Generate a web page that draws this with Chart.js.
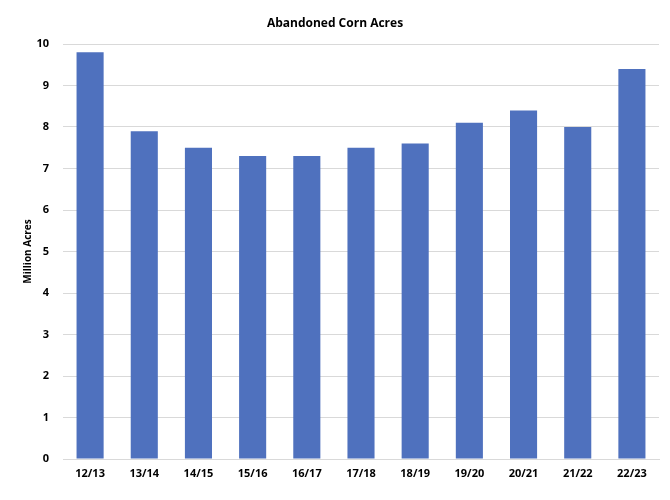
<!DOCTYPE html>
<html>
<head>
<meta charset="utf-8">
<script src="https://cdn.jsdelivr.net/npm/chart.js@4"></script>
<style>
  html, body { margin: 0; padding: 0; background: #fff; }
  #wrap { width: 670px; height: 500px; }
</style>
</head>
<body>
<div id="wrap"><canvas id="c"></canvas></div>
<script>
const seasons = ["12/13", "13/14", "14/15", "15/16", "16/17", "17/18", "18/19", "19/20", "20/21", "21/22", "22/23"]
const abandonedAcres = [9.8, 7.9, 7.5, 7.3, 7.3, 7.5, 7.6, 8.1, 8.4, 8.0, 9.4]
const yTicks = [0, 1, 2, 3, 4, 5, 6, 7, 8, 9, 10]

const fontFamily = "'Open Sans', 'Liberation Sans', sans-serif"

var ctx = document.getElementById("c")
var chart = new Chart(ctx, {
    type: "bar",
    data: {
        labels: seasons,
        datasets: [{
            data: abandonedAcres,
            backgroundColor: "#4F71BE",
            categoryPercentage: 1,
            barPercentage: 0.5,
        }],
    },
    options: {
        responsive: true,
        maintainAspectRatio: false,
        animation: false,
        // equal side padding keeps the title centred on the canvas
        layout: { padding: { left: 11, right: 11, top: 0, bottom: 0 } },
        plugins: {
            legend: { display: false },
            tooltip: { enabled: false },
            title: {
                display: true,
                text: "Abandoned Corn Acres",
                color: "#000",
                font: { family: fontFamily, size: 12, weight: "bold" },
                padding: { top: 16, bottom: 13.6 },
            },
        },
        scales: {
            x: {
                grid: { display: false, drawTicks: false },
                border: { display: true, color: "#d9d9d9" },
                ticks: {
                    color: "#000",
                    padding: 8,
                    font: { family: fontFamily, size: 11, weight: "bold" },
                },
                afterFit: (s) => { s.height = 41 },
            },
            y: {
                min: 0,
                max: 10,
                afterBuildTicks: (s) => { s.ticks = yTicks.map(v => ({ value: v })) },
                grid: { color: "#d9d9d9", drawTicks: false },
                border: { display: false },
                ticks: {
                    color: "#000",
                    padding: 14,
                    font: { family: fontFamily, size: 11, weight: "bold" },
                },
                title: {
                    display: true,
                    text: "Million Acres",
                    color: "#000",
                    font: { family: fontFamily, size: 10, weight: "bold" },
                    padding: { top: 11, bottom: 0 },
                },
                afterFit: (s) => { s.width = 52 },
            },
        },
    },
})
</script>
</body>
</html>
